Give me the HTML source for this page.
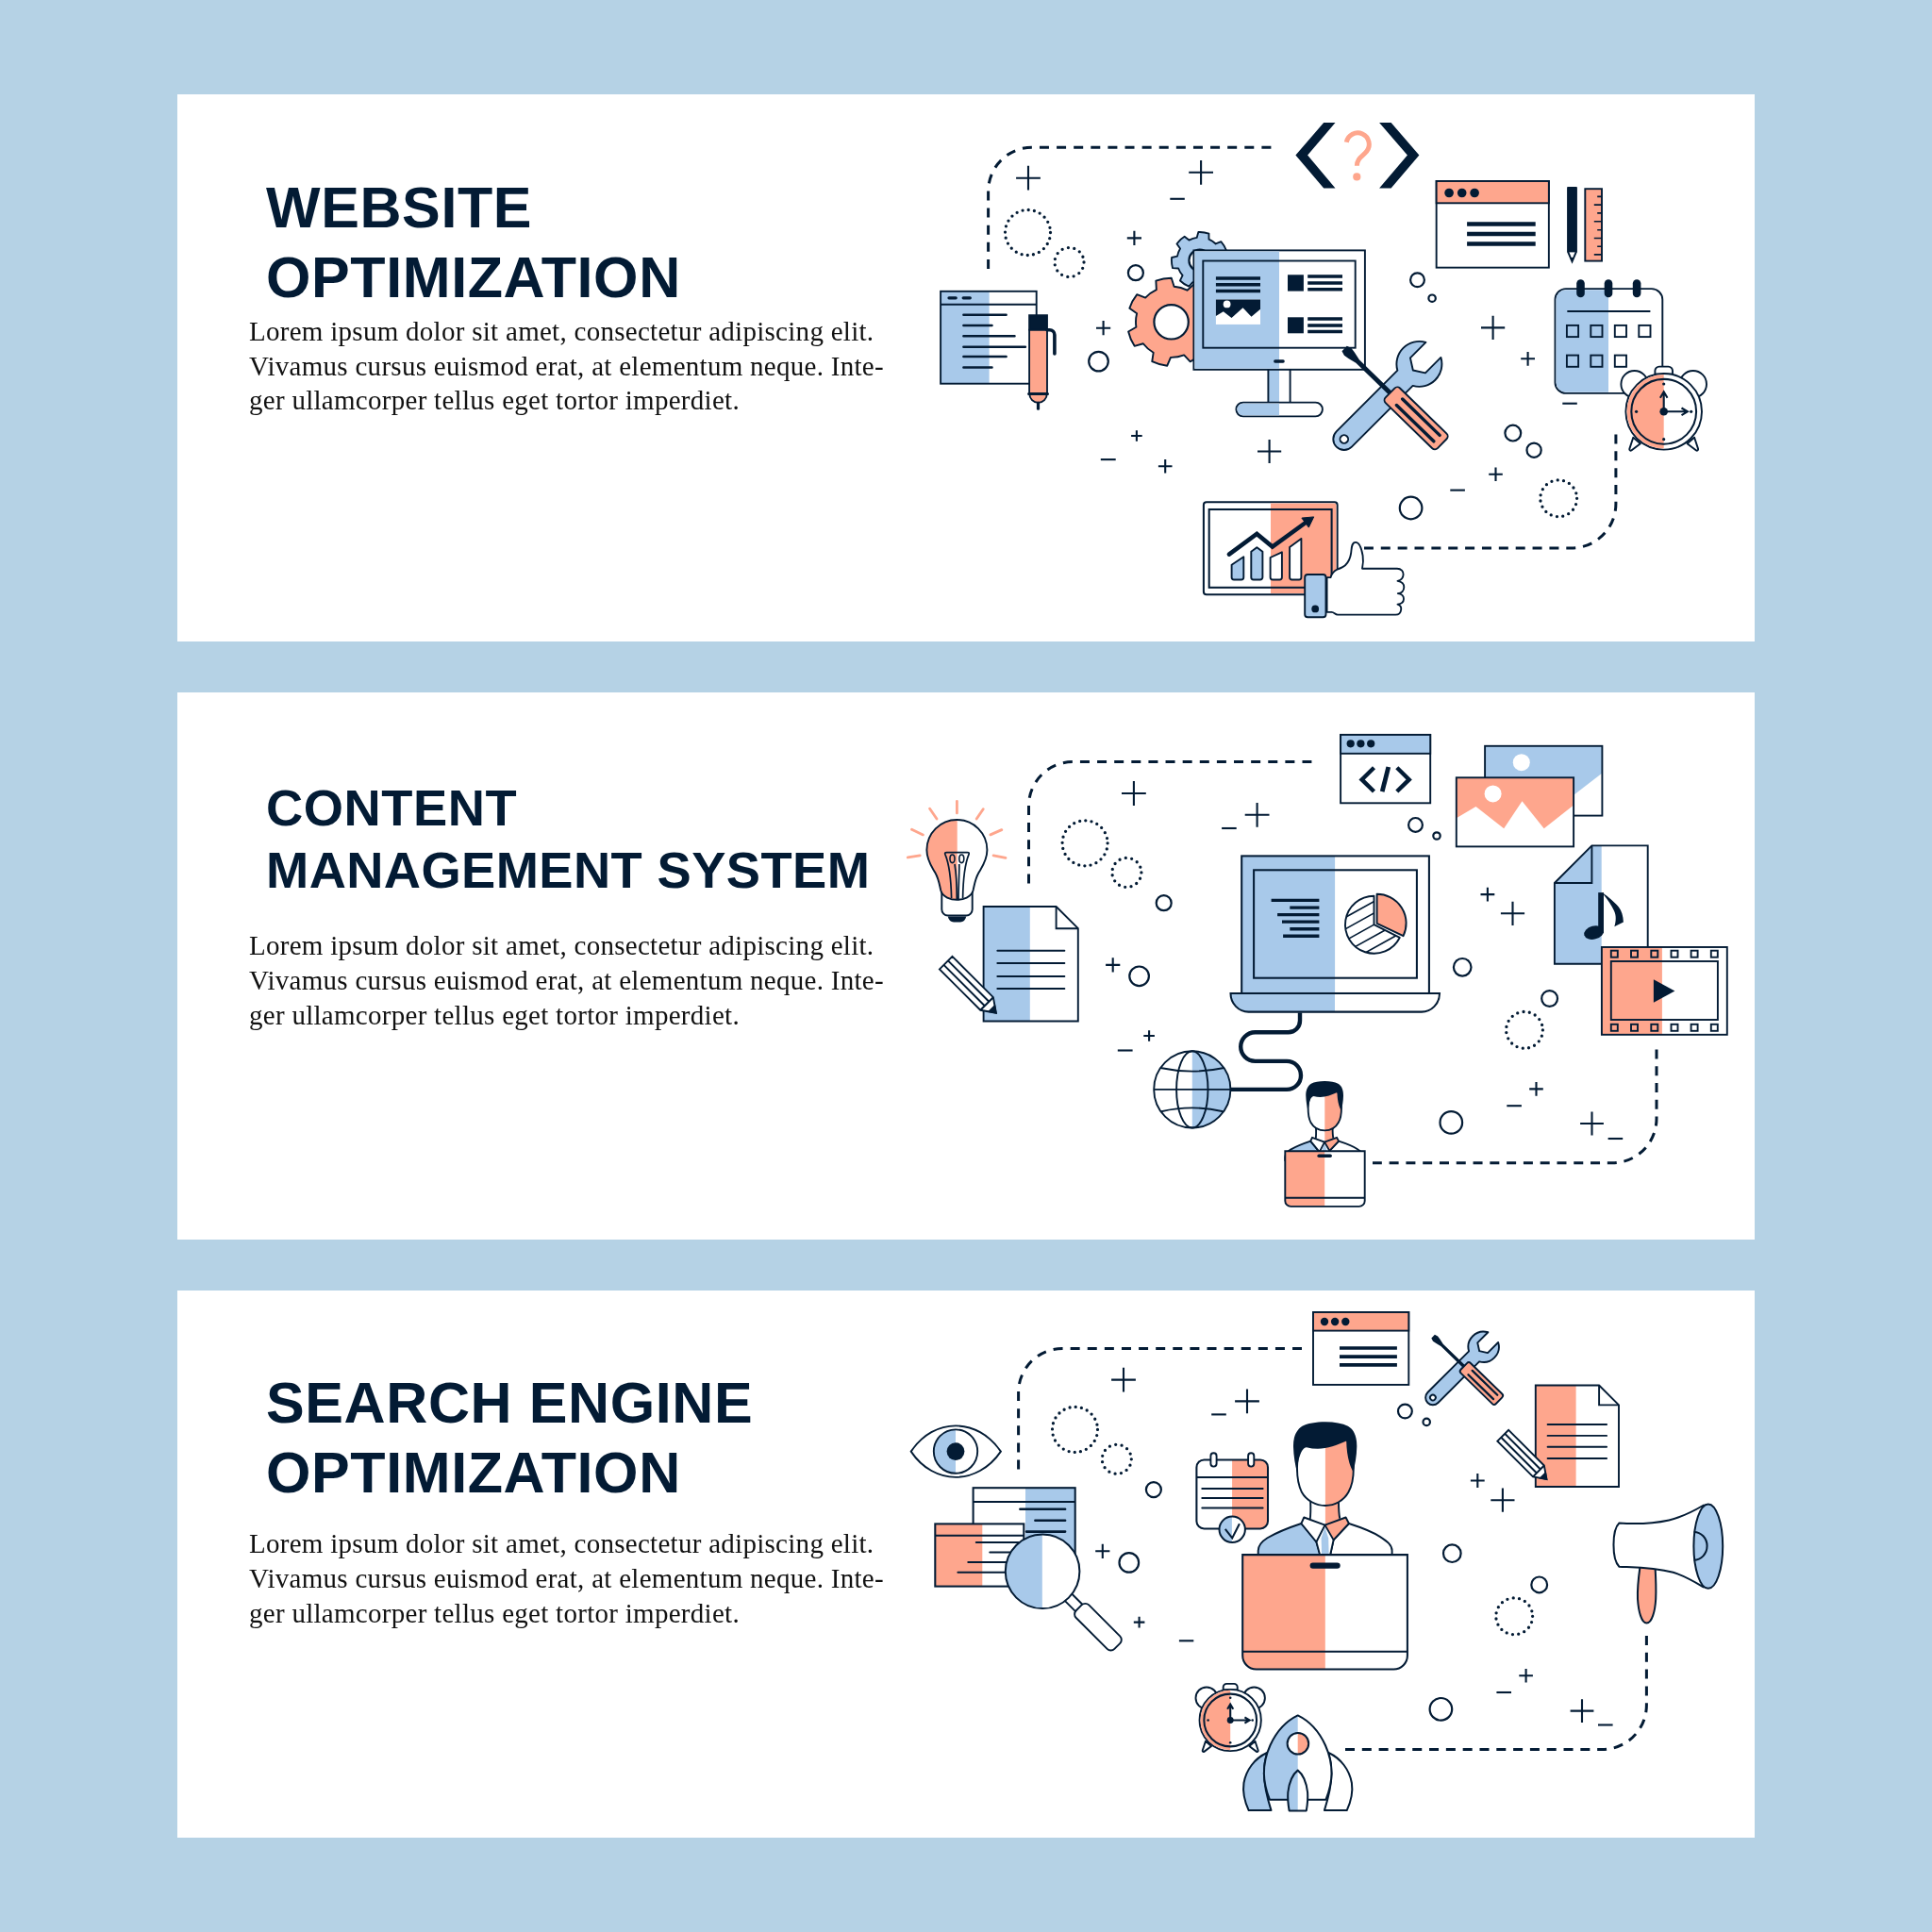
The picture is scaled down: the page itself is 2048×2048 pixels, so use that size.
<!DOCTYPE html>
<html><head><meta charset="utf-8"><title>Banners</title>
<style>
html,body{margin:0;padding:0;}
body{width:2048px;height:2048px;background:#b5d2e5;position:relative;overflow:hidden;font-family:"Liberation Sans",sans-serif;}
.panel{position:absolute;left:188px;width:1672px;height:580px;background:#fff;}
.t{will-change:transform;position:absolute;left:281.5px;margin:0;font-family:"Liberation Sans",sans-serif;font-weight:700;color:#031b34;white-space:nowrap;}
.b{will-change:transform;position:absolute;left:264px;margin:0;font-family:"Liberation Serif",serif;color:#111;white-space:nowrap;}
svg{position:absolute;left:0;top:0;}
</style></head><body>
<div class="panel" style="top:100px"></div>
<div class="panel" style="top:734px"></div>
<div class="panel" style="top:1368px"></div>
<div class="t" style="top:184.80px;font-size:61px;line-height:normal;letter-spacing:0.6px">WEBSITE</div>
<div class="t" style="top:258.80px;font-size:61px;line-height:normal;letter-spacing:0.6px">OPTIMIZATION</div>
<div class="b" style="top:335.16px;font-size:29px;line-height:normal;letter-spacing:0.28px">Lorem ipsum dolor sit amet, consectetur adipiscing elit.</div>
<div class="b" style="top:371.86px;font-size:29px;line-height:normal;letter-spacing:0.28px">Vivamus cursus euismod erat, at elementum neque. Inte-</div>
<div class="b" style="top:408.46px;font-size:29px;line-height:normal;letter-spacing:0.28px">ger ullamcorper tellus eget tortor imperdiet.</div>
<div class="t" style="top:824.66px;font-size:54.3px;line-height:normal;letter-spacing:0.53px">CONTENT</div>
<div class="t" style="top:890.76px;font-size:54.3px;line-height:normal;letter-spacing:0.4px">MANAGEMENT SYSTEM</div>
<div class="b" style="top:986.16px;font-size:29px;line-height:normal;letter-spacing:0.28px">Lorem ipsum dolor sit amet, consectetur adipiscing elit.</div>
<div class="b" style="top:1022.96px;font-size:29px;line-height:normal;letter-spacing:0.28px">Vivamus cursus euismod erat, at elementum neque. Inte-</div>
<div class="b" style="top:1059.76px;font-size:29px;line-height:normal;letter-spacing:0.28px">ger ullamcorper tellus eget tortor imperdiet.</div>
<div class="t" style="top:1452.10px;font-size:61px;line-height:normal;letter-spacing:0.6px">SEARCH ENGINE</div>
<div class="t" style="top:1525.60px;font-size:61px;line-height:normal;letter-spacing:0.6px">OPTIMIZATION</div>
<div class="b" style="top:1620.16px;font-size:29px;line-height:normal;letter-spacing:0.28px">Lorem ipsum dolor sit amet, consectetur adipiscing elit.</div>
<div class="b" style="top:1656.86px;font-size:29px;line-height:normal;letter-spacing:0.28px">Vivamus cursus euismod erat, at elementum neque. Inte-</div>
<div class="b" style="top:1693.56px;font-size:29px;line-height:normal;letter-spacing:0.28px">ger ullamcorper tellus eget tortor imperdiet.</div>

<svg width="2048" height="2048" viewBox="0 0 2048 2048" fill="none" stroke="#031b34" stroke-width="2" stroke-linecap="butt" stroke-linejoin="miter">
<g id="p1"><path d="M1047.6 284.9V202.7A46.5 46.5 0 0 1 1094.1 156.2H1347.4" stroke-width="3" stroke-dasharray="10 8.11" stroke-dashoffset="0"/><path d="M1712.9 460.4V534A47 47 0 0 1 1665.9 581H1446" stroke-width="3" stroke-dasharray="10 7.865" stroke-dashoffset="0"/><path d="M1077.1 188.7H1102.9M1090 175.8V201.6" stroke-width="2.1"/><path d="M1260.2 182.8H1286M1273.1 169.9V195.7" stroke-width="2.1"/><path d="M1240.3 210.8H1255.8" stroke-width="2.1"/><circle cx="1089.5" cy="246.5" r="24" stroke-width="3.3" stroke-linecap="round" stroke-dasharray="0 6.2832"/><circle cx="1133.5" cy="278" r="15.5" stroke-width="3.3" stroke-linecap="round" stroke-dasharray="0 6.4926"/><path d="M1194.8 252.4H1210M1202.4 244.8V260" stroke-width="2.1"/><circle cx="1203.9" cy="289.2" r="8" stroke-width="2.2" fill="none"/><path d="M1162 347.7H1177.2M1169.6 340.1V355.3" stroke-width="2.1"/><circle cx="1164.5" cy="383.1" r="10.3" stroke-width="2.2" fill="none"/><path d="M1199.1 462H1210.7M1204.9 456.2V467.8" stroke-width="2.1"/><path d="M1166.8 487.1H1182.7" stroke-width="2.1"/><path d="M1227.9 494.2H1242.5M1235.2 486.9V501.5" stroke-width="2.1"/><path d="M1333 478.5H1358.2M1345.6 465.9V491.1" stroke-width="2.1"/><circle cx="1502.5" cy="296.7" r="7.4" stroke-width="2.2" fill="none"/><circle cx="1518.1" cy="316.2" r="3.7" stroke-width="2.2" fill="none"/><path d="M1570 347.4H1595.2M1582.6 334.8V360" stroke-width="2.1"/><path d="M1612.2 380.3H1627M1619.6 372.9V387.7" stroke-width="2.1"/><path d="M1656.3 427.7H1671.8" stroke-width="2.1"/><circle cx="1603.8" cy="459.1" r="8.4" stroke-width="2.2" fill="none"/><circle cx="1626.1" cy="477.2" r="7.6" stroke-width="2.2" fill="none"/><path d="M1578.2 502.8H1592.8M1585.5 495.5V510.1" stroke-width="2.1"/><path d="M1537.3 519.6H1552.9" stroke-width="2.1"/><circle cx="1495.6" cy="538.5" r="11.8" stroke-width="2.2" fill="none"/><circle cx="1652.2" cy="528.3" r="19.4" stroke-width="3.3" stroke-linecap="round" stroke-dasharray="0 6.4155"/><rect x="997.1" y="308.8" width="51.5" height="97.9" fill="#a8c9ea" stroke="none"/><rect x="997.1" y="308.8" width="101.6" height="97.9" fill="none" stroke-width="1.9" rx="0"/><path d="M997.1 322.7H1098.7" stroke-width="1.9"/><path d="M1006 315.8H1013.2M1021.2 315.8H1028.3" stroke-width="3.3" stroke-linecap="round"/><path d="M1021.4 333.7H1066.6M1021.4 344.9H1051.5M1021.4 356.3H1075.5M1021.4 367.8H1086.9M1021.4 378H1066.6M1021.4 389.4H1051.5" stroke-width="2.5" stroke-linecap="round"/><path d="M1091.1 349.6H1110V417.5H1091.1Z" fill="#fea68d" stroke-width="1.85" /><path d="M1091.1 334.2H1110V349.6H1091.1Z" fill="#031b34" stroke-width="1.85" /><path d="M1091.3 417.5H1109.8A9.25 9.4 0 0 1 1091.3 417.5Z" fill="#fea68d" stroke-width="1.85" /><path d="M1090.6 417.5H1110.5" stroke-width="3" stroke-linecap="round"/><path d="M1100.5 427V433.2" stroke-width="3.2" stroke-linecap="round"/><path d="M1110 349.8H1112.6A5.3 5.3 0 0 1 1117.9 355.1V375" stroke-width="3.6" stroke-linecap="round"/><path d="M1268.67 251.92L1270.33 246.04A30 30 0 0 1 1281.47 247.57L1281.48 253.67A24.3 24.3 0 0 1 1288.72 258.46L1294.34 256.09A30 30 0 0 1 1300.1 265.75L1295.33 269.57A24.3 24.3 0 0 1 1296.1 278.21L1301.46 281.14A30 30 0 0 1 1297.49 291.66L1291.54 290.31A24.3 24.3 0 0 1 1285.26 296.3L1286.31 302.31A30 30 0 0 1 1275.62 305.77L1272.95 300.28A24.3 24.3 0 0 1 1264.36 299.1L1260.32 303.67A30 30 0 0 1 1250.94 297.47L1253.58 291.96A24.3 24.3 0 0 1 1249.14 284.5L1243.04 284.2A30 30 0 0 1 1242.05 273L1248 271.63A24.3 24.3 0 0 1 1251.06 263.51L1247.5 258.55A30 30 0 0 1 1255.64 250.79L1260.42 254.58A24.3 24.3 0 0 1 1268.67 251.92Z" fill="#a8c9ea" stroke-width="1.85" stroke-linejoin="round"/><circle cx="1271.9" cy="276" r="11.5" stroke-width="2.2" fill="#fff"/><path d="M1225.85 307.16L1225.37 297.62A46.6 46.6 0 0 1 1241.75 294.7L1244.59 303.82A37.6 37.6 0 0 1 1258.48 307.7L1265.63 301.37A46.6 46.6 0 0 1 1278.13 312.36L1272.77 320.27A37.6 37.6 0 0 1 1278.39 333.55L1287.8 335.19A46.6 46.6 0 0 1 1287 351.82L1277.48 352.55A37.6 37.6 0 0 1 1270.6 365.23L1275.18 373.61A46.6 46.6 0 0 1 1261.68 383.35L1255.17 376.37A37.6 37.6 0 0 1 1240.97 378.89L1237.27 387.7A46.6 46.6 0 0 1 1221.25 383.22L1222.65 373.77A37.6 37.6 0 0 1 1211.82 364.25L1202.63 366.85A46.6 46.6 0 0 1 1196.13 351.52L1204.39 346.73A37.6 37.6 0 0 1 1205.09 332.32L1197.33 326.76A46.6 46.6 0 0 1 1205.26 312.13L1214.16 315.6A37.6 37.6 0 0 1 1225.85 307.16Z" fill="#fea68d" stroke-width="1.9" stroke-linejoin="round"/><circle cx="1241.6" cy="341.3" r="18.2" stroke-width="2.2" fill="#fff"/><rect x="1344.4" y="391" width="11.6" height="35" fill="#a8c9ea" stroke="none"/><path d="M1344.4 391V426M1367.6 391V426" fill="none" stroke-width="1.9" /><rect x="1310.4" y="426.6" width="91.5" height="14.8" rx="7.4" fill="#fff" stroke-width="1.9"/><path d="M1356 427.7H1317.8A6.3 6.3 0 0 0 1317.8 440.3H1356Z" fill="#a8c9ea" stroke="none"/><rect x="1265.4" y="265.4" width="181.5" height="126.4" fill="#fff" stroke-width="1.9" rx="0"/><rect x="1266.5" y="266.5" width="89.5" height="124.2" fill="#a8c9ea" stroke="none"/><rect x="1275.3" y="276.5" width="161.4" height="92.2" fill="none" stroke-width="1.9" rx="0"/><path d="M1351.8 383H1360.1" stroke-width="3.4" stroke-linecap="round"/><path d="M1288.9 295H1336M1288.9 301.7H1336M1288.9 308.5H1336" stroke-width="3.4"/><rect x="1288.9" y="317.5" width="47.1" height="26.4" fill="#fff" stroke="none"/><path d="M1288.9 317.5H1336V327.8L1326.5 335.8L1317.5 326.3L1305.5 337.1L1296.8 330.2L1288.9 335.1Z" fill="#031b34" stroke="none"/><circle cx="1300.6" cy="322.4" r="3.9" fill="#fff" stroke="none"/><rect x="1365" y="291.3" width="16.9" height="17.3" fill="#031b34" stroke="none"/><rect x="1365" y="336.3" width="16.9" height="17" fill="#031b34" stroke="none"/><path d="M1386.2 293.1H1423M1386.2 300H1423M1386.2 306.8H1423M1386.2 338.1H1423M1386.2 344.9H1423M1386.2 351.5H1423" stroke-width="3.5"/><path d="M1403.2 130.1H1415.5L1386.1 164.6L1415.5 199.4H1403.2L1373.4 164.6Z" fill="#031b34" stroke="none"/><path d="M1462.1 130.1H1474.6L1504.4 164.6L1474.6 199.4H1462.1L1491.9 164.6Z" fill="#031b34" stroke="none"/><path d="M1427.3 150.8A12.1 12.1 0 1 1 1448.6 160.6C1444.5 166 1438.4 167.5 1438.4 175.8" stroke="#fea68d" stroke-width="5" fill="none"/><circle cx="1438.3" cy="187.4" r="4.1" fill="#fea68d" stroke="none"/><rect x="1522.65" y="192" width="119.2" height="91.65" fill="#fff" stroke-width="1.9" rx="0"/><rect x="1522.65" y="192" width="119.2" height="23.3" fill="#fea68d" stroke-width="1.9" rx="0"/><circle cx="1536.1" cy="204.5" r="4.8" fill="#031b34" stroke="none"/><circle cx="1549.7" cy="204.5" r="4.8" fill="#031b34" stroke="none"/><circle cx="1563.1" cy="204.5" r="4.8" fill="#031b34" stroke="none"/><path d="M1555.1 237.6H1627.7M1555.1 247.9H1627.7M1555.1 258.5H1627.7" stroke-width="4.5"/><path d="M1662.3 199.1H1670.7V267.4L1666.5 277.2L1662.3 267.4Z" fill="#fff" stroke-width="2" stroke-linejoin="miter"/><path d="M1661.3 199.1H1671.7V267.4H1661.3Z" fill="#031b34" stroke="none"/><path d="M1664.6 273L1666.5 277.6L1668.4 273Z" fill="#031b34" stroke="none"/><rect x="1680.3" y="200.2" width="17.7" height="76.4" fill="#fea68d" stroke-width="1.9" rx="0"/><path d="M1693.2 208.4H1698M1689.8 217.1H1698M1693.2 225.9H1698M1689.8 234.8H1698M1693.2 243.8H1698M1689.8 252.5H1698M1693.2 261.3H1698M1689.8 269.9H1698" fill="none" stroke-width="1.6" /><rect x="1648.5" y="306.1" width="113.8" height="110.8" rx="11.5" fill="#fff" stroke-width="1.9"/><path d="M1705 307.2H1660A10.4 10.4 0 0 0 1649.6 317.6V405.4A10.4 10.4 0 0 0 1660 415.8H1705Z" fill="#a8c9ea" stroke="none"/><rect x="1671.2" y="296.3" width="8.6" height="19" rx="4.3" fill="#031b34" stroke="none"/><rect x="1700.7" y="296.3" width="8.6" height="19" rx="4.3" fill="#031b34" stroke="none"/><rect x="1730.8" y="296.3" width="8.6" height="19" rx="4.3" fill="#031b34" stroke="none"/><path d="M1662.1 330H1748.6" stroke-width="2.05" stroke-linecap="round"/><rect x="1660.9" y="344.9" width="12.2" height="12.2" fill="none" stroke-width="1.9" rx="0"/><rect x="1686.3" y="344.9" width="12.2" height="12.2" fill="none" stroke-width="1.9" rx="0"/><rect x="1711.8" y="344.9" width="12.2" height="12.2" fill="none" stroke-width="1.9" rx="0"/><rect x="1737.3" y="344.9" width="12.2" height="12.2" fill="none" stroke-width="1.9" rx="0"/><rect x="1660.9" y="376.6" width="12.2" height="12.2" fill="none" stroke-width="1.9" rx="0"/><rect x="1686.3" y="376.6" width="12.2" height="12.2" fill="none" stroke-width="1.9" rx="0"/><rect x="1711.8" y="376.6" width="12.2" height="12.2" fill="none" stroke-width="1.9" rx="0"/><g transform="translate(1763.7 436.3) scale(1.0)"><path d="M-32.4 27.4L-36.4 39.6A1.4 1.4 0 0 0 -34.4 41.2L-24.8 33.9Z" fill="#fff" stroke-width="1.90" stroke-linejoin="round"/><path d="M32.4 27.4L36.4 39.6A1.4 1.4 0 0 1 34.4 41.2L24.8 33.9Z" fill="#fff" stroke-width="1.90" stroke-linejoin="round"/><circle cx="-31.1" cy="-29.1" r="14.2" fill="#fff" stroke-width="1.90"/><circle cx="31.1" cy="-29.1" r="14.2" fill="#fff" stroke-width="1.90"/><path d="M-9.3 -39.5V-43.2A4.5 4.5 0 0 1 -4.8 -47.7H4.8A4.5 4.5 0 0 1 9.3 -43.2V-39.5Z" fill="#fff" stroke-width="1.90"/><circle cx="0" cy="0" r="40.3" fill="#fff" stroke-width="1.90"/><path d="M0 -39.2A39.2 39.2 0 0 0 0 39.2Z" fill="#fea68d" stroke="none"/><circle cx="0" cy="0" r="34.4" fill="none" stroke-width="2.05"/><circle cx="0" cy="0" r="4.3" fill="#031b34" stroke="none"/><path d="M0 0V-20.5M-3.8 -14.6L0 -21L3.8 -14.6M0 0H24.5M18.8 -3.8L25.2 0L18.8 3.8" stroke-width="2.10" fill="none"/><circle cx="0" cy="-29.3" r="1.6" fill="#031b34" stroke="none"/><circle cx="29" cy="0" r="1.6" fill="#031b34" stroke="none"/><circle cx="0" cy="29.4" r="1.6" fill="#031b34" stroke="none"/><circle cx="-29.1" cy="0" r="1.6" fill="#031b34" stroke="none"/></g><g transform="translate(1424.8 465.5) scale(1.0)"><g transform="rotate(-45)"><path d="M0 -11.5H91.53A24 24 0 0 1 133.77 -11.3H110.5L103.3 0L110.5 11.3H133.77A24 24 0 0 1 91.53 11.5H0A11.5 11.5 0 0 1 0 -11.5Z" fill="#a8c9ea" stroke-width="1.90" stroke-linejoin="round"/><circle cx="0" cy="0" r="4.3" fill="#fff" stroke-width="1.90"/></g><g transform="translate(1.4 -95) rotate(44.2)"><path d="M-1.5 -3.8L3.5 -5.4L9 -4.6L18 -2.5H70V2.5H18L9 4.6L3.5 5.4L-1.5 3.8Z" fill="#031b34" stroke="none"/><rect x="66" y="-10.9" width="77" height="21.8" rx="4" fill="#fea68d" stroke-width="1.90"/><path d="M80 -4.5H135M80 4.5H135" stroke-width="3.4" stroke-linecap="round"/></g></g><rect x="1275.9" y="532.3" width="141.7" height="98" rx="3" fill="#fff" stroke-width="2.05"/><path d="M1347 533.5H1414.6A1.8 1.8 0 0 1 1416.4 535.3V627.3A1.8 1.8 0 0 1 1414.6 629.1H1347Z" fill="#fea68d" stroke="none"/><rect x="1281.7" y="540" width="129.9" height="82.8" fill="none" stroke-width="2.05" rx="0"/><path d="M1305.6 598.8L1318.3 590.3V612.0A2.5 2.5 0 0 1 1315.8 614.5H1308.1A2.5 2.5 0 0 1 1305.6 612.0Z" fill="#a8c9ea" stroke-width="1.9" stroke-linejoin="round"/><path d="M1326.3 584.8L1332.35 580.3L1338.4 584.8V612.0A2.5 2.5 0 0 1 1335.9 614.5H1328.8A2.5 2.5 0 0 1 1326.3 612.0Z" fill="#a8c9ea" stroke-width="1.9" stroke-linejoin="round"/><path d="M1346.6 591L1358.9 585.3V612.0A2.5 2.5 0 0 1 1356.4 614.5H1349.1A2.5 2.5 0 0 1 1346.6 612.0Z" fill="#fff" stroke-width="1.9" stroke-linejoin="round"/><path d="M1367.1 579.9L1379.4 570.9V612.0A2.5 2.5 0 0 1 1376.9 614.5H1369.6A2.5 2.5 0 0 1 1367.1 612.0Z" fill="#fff" stroke-width="1.9" stroke-linejoin="round"/><path d="M1302.9 587.6L1332.3 565.9L1348.8 579.6L1384 554" stroke-width="4.6" stroke-linecap="round" stroke-linejoin="miter" fill="none"/><path d="M1379.9 549.1L1392.7 547.9L1387.3 559.1Z" fill="#031b34" stroke-width="1" stroke-linejoin="round"/><path d="M1406.6 612.1H1410.6C1412 607 1414 605 1417.5 603.6C1421 602.3 1424 601 1426 599.2C1430 595.5 1431.5 591 1432.2 586C1432.8 581 1432.6 574.9 1437 574.9C1441.5 574.9 1443.4 582 1444.6 589C1445.4 594 1445 598 1444 602.7H1481C1485.3 602.7 1487.8 605.5 1487.6 609C1487.4 612.5 1485.3 615 1481.5 615.8C1486 616.5 1488.4 619 1488.3 622.5C1488.2 626 1485.8 628.6 1481.8 629.2C1486 629.8 1488.1 632 1488 635C1487.9 638 1485.5 640.2 1481.5 640.6C1484.4 641.4 1485.6 643.6 1485.2 646.3C1484.7 649.8 1482.5 651.6 1479.5 651.6H1418C1415 651.6 1414.5 648.9 1411.5 648.9H1406.6Z" fill="#fff" stroke-width="1.85" stroke-linejoin="round"/><rect x="1383.2" y="609" width="22.3" height="45.2" rx="3" fill="#a8c9ea" stroke-width="1.9"/><circle cx="1394.2" cy="645.4" r="3.9" fill="#031b34" stroke="none"/></g><g id="p2"><path d="M1090.5 936.4V854.3A46.7 46.7 0 0 1 1137.2 807.6H1390.4" stroke-width="3" stroke-dasharray="10 8.12" stroke-dashoffset="0"/><path d="M1756 1112.4V1185.8A47 47 0 0 1 1709 1232.8H1455" stroke-width="3" stroke-dasharray="10 7.785" stroke-dashoffset="0"/><path d="M1189 841H1214.8M1201.9 828.1V853.9" stroke-width="2.1"/><path d="M1319.7 863.8H1345.5M1332.6 850.9V876.7" stroke-width="2.1"/><path d="M1295.1 878H1310.7" stroke-width="2.1"/><circle cx="1150.1" cy="893.8" r="24" stroke-width="3.3" stroke-linecap="round" stroke-dasharray="0 6.2832"/><circle cx="1194.4" cy="924.9" r="15.5" stroke-width="3.3" stroke-linecap="round" stroke-dasharray="0 6.4926"/><circle cx="1233.7" cy="957.2" r="8" stroke-width="2.2" fill="none"/><path d="M1172.1 1022.9H1187.3M1179.7 1015.3V1030.5" stroke-width="2.1"/><circle cx="1207.6" cy="1034.8" r="10.3" stroke-width="2.2" fill="none"/><path d="M1212.3 1098H1223.9M1218.1 1092.2V1103.8" stroke-width="2.1"/><path d="M1184.8 1113.5H1200.6" stroke-width="2.1"/><circle cx="1500.5" cy="874.4" r="7.4" stroke-width="2.2" fill="none"/><circle cx="1523" cy="886" r="3.7" stroke-width="2.2" fill="none"/><path d="M1569.5 948.1H1584.3M1576.9 940.7V955.5" stroke-width="2.1"/><path d="M1590.9 968.3H1616.1M1603.5 955.7V980.9" stroke-width="2.1"/><circle cx="1550.2" cy="1025.3" r="9.3" stroke-width="2.2" fill="none"/><circle cx="1642.6" cy="1058.5" r="8.4" stroke-width="2.2" fill="none"/><circle cx="1616" cy="1091.9" r="19.4" stroke-width="3.3" stroke-linecap="round" stroke-dasharray="0 6.4155"/><circle cx="1538.3" cy="1189.9" r="11.8" stroke-width="2.2" fill="none"/><path d="M1597.3 1172.2H1612.9" stroke-width="2.1"/><path d="M1621.2 1154.4H1635.8M1628.5 1147.1V1161.7" stroke-width="2.1"/><path d="M1675.1 1191H1699.9M1687.5 1178.6V1203.4" stroke-width="2.1"/><path d="M1704.6 1207H1720.2" stroke-width="2.1"/><path d="M1014.4 849.3L1014.4 861.9M985.6 857.2L993 868M1042.2 857.7L1035.2 868M966.5 879.3L978.4 884.9M1061.8 879.6L1049.9 884.9M962.3 908.9L975.2 906.8M1066 909.4L1053.1 906.8" stroke="#fea68d" stroke-width="2.8" stroke-linecap="round"/><path d="M998.3 946V964A6.5 6.5 0 0 0 1004.8 970.5H1024.2A6.5 6.5 0 0 0 1030.7 964V946Z" fill="#fff" stroke-width="1.9"/><path d="M1004.9 971.5H1024.1C1023.5 975.5 1021 977.4 1018 977.4H1011C1008 977.4 1005.5 975.5 1004.9 971.5Z" fill="#031b34" stroke="none"/><clipPath id="bulbL"><rect x="970" y="860" width="44.7" height="100"/></clipPath><path d="M1014.4 869A32 32 0 0 1 1046.4 901C1046.4 912 1041 919 1037.5 925C1033.5 932 1033 938 1031.5 944C1029.5 951 1021 953.8 1014.4 953.8C1007.8 953.8 999.3 951 997.3 944C995.8 938 995.3 932 991.3 925C987.8 919 982.4 912 982.4 901A32 32 0 0 1 1014.4 869Z" fill="#fff" stroke="none"/><path d="M1014.4 869A32 32 0 0 1 1046.4 901C1046.4 912 1041 919 1037.5 925C1033.5 932 1033 938 1031.5 944C1029.5 951 1021 953.8 1014.4 953.8C1007.8 953.8 999.3 951 997.3 944C995.8 938 995.3 932 991.3 925C987.8 919 982.4 912 982.4 901A32 32 0 0 1 1014.4 869Z" fill="#fea68d" stroke="none" clip-path="url(#bulbL)"/><path d="M1014.4 869A32 32 0 0 1 1046.4 901C1046.4 912 1041 919 1037.5 925C1033.5 932 1033 938 1031.5 944C1029.5 951 1021 953.8 1014.4 953.8C1007.8 953.8 999.3 951 997.3 944C995.8 938 995.3 932 991.3 925C987.8 919 982.4 912 982.4 901A32 32 0 0 1 1014.4 869Z" fill="none" stroke-width="1.9"/><path d="M1003.5 903.6H1025.5Q1027.8 903.6 1027 905.6C1024 913 1021 925 1020.6 952M1001.9 905.6Q1001.1 903.6 1003.5 903.6M1001.9 905.6C1005 913 1008 925 1008.6 952M1012 916C1013.5 925 1014.3 940 1014.3 953M1016.8 916C1017 925 1016 940 1016 953" stroke-width="1.7" fill="none"/><ellipse cx="1009.5" cy="910.3" rx="2.5" ry="4.3" stroke-width="1.6"/><ellipse cx="1019.3" cy="910.3" rx="2.5" ry="4.3" stroke-width="1.6"/><path d="M1042.6 961H1119.6L1142.8 984.2V1082.5H1042.6Z" fill="#fff" stroke="none"/><rect x="1042.6" y="961" width="49.2" height="121.5" fill="#a8c9ea" stroke="none"/><path d="M1042.6 961H1119.6L1142.8 984.2V1082.5H1042.6Z" fill="none" stroke-width="1.9" stroke-linejoin="miter"/><path d="M1119.6 961V984.2H1142.8" fill="none" stroke-width="1.9"/><path d="M1057.3 1007.7H1128.4M1057.3 1021H1128.4M1057.3 1035H1128.4M1057.3 1048H1128.4" stroke-width="1.9" stroke-linecap="round"/><g transform="translate(1055.9 1073.8) rotate(45) scale(1.0)"><path d="M-75.2 -9.6H-13.9L0 0L-13.9 9.6H-75.2Z" fill="#fff" stroke-width="1.90" stroke-linejoin="miter"/><path d="M-75.2 -3.2H-13.9M-75.2 3.2H-13.9M-13.9 -9.6V9.6" stroke-width="2.00"/><path d="M-6.5 -4.5L0 0L-6.5 4.5Z" fill="#031b34" stroke-width="1.50"/></g><rect x="1316.2" y="907.4" width="198.7" height="145.6" fill="#fff" stroke="none"/><rect x="1316.2" y="907.4" width="98.9" height="145.6" fill="#a8c9ea" stroke="none"/><rect x="1316.2" y="907.4" width="198.7" height="145.6" fill="none" stroke-width="2.05" rx="0"/><rect x="1329.1" y="922.3" width="172.8" height="114.4" fill="none" stroke-width="2.05" rx="0"/><clipPath id="lapL"><rect x="1300" y="1050" width="115.1" height="30"/></clipPath><path d="M1304.5 1053H1526A19 19.6 0 0 1 1507 1072.6H1323.5A19 19.6 0 0 1 1304.5 1053Z" fill="#fff" stroke="none"/><path d="M1304.5 1053H1526A19 19.6 0 0 1 1507 1072.6H1323.5A19 19.6 0 0 1 1304.5 1053Z" fill="#a8c9ea" stroke="none" clip-path="url(#lapL)"/><path d="M1304.5 1053H1526A19 19.6 0 0 1 1507 1072.6H1323.5A19 19.6 0 0 1 1304.5 1053Z" fill="none" stroke-width="2.05"/><path d="M1347.6 954.4H1398.4M1367.3 962.1H1398.4M1354.1 969.6H1398.4M1359 977.1H1398.4M1367.3 984.7H1398.4M1360.1 992.2H1398.4" stroke-width="3.4"/><clipPath id="pieC"><path d="M1456.5 980.2L1483.72 993.95A30.5 30.5 0 1 1 1456.5 949.7Z"/></clipPath><path d="M1456.5 980.2L1483.72 993.95A30.5 30.5 0 1 1 1456.5 949.7Z" fill="#fff" stroke="none"/><path d="M1416.5 977.80L1496.5 933.40M1416.5 990.10L1496.5 945.70M1416.5 1002.40L1496.5 958.00M1416.5 1014.70L1496.5 970.30M1416.5 1027.00L1496.5 982.60" stroke-width="1.6" clip-path="url(#pieC)"/><path d="M1456.5 980.2L1483.72 993.95A30.5 30.5 0 1 1 1456.5 949.7Z" fill="none" stroke-width="1.9" stroke-linejoin="round"/><path d="M1459.6 978.8V947.8A31 31 0 0 1 1487.56 992.19Z" fill="#fea68d" stroke-width="1.9" stroke-linejoin="round"/><path d="M1378 1073.5V1082A12.3 12.3 0 0 1 1365.7 1094.3H1330.5A15.3 15.3 0 0 0 1330.5 1124.9H1364A15 15 0 0 1 1364 1154.9H1305" stroke-width="4.4" fill="none"/><circle cx="1263.8" cy="1154.9" r="40.6" fill="#fff" stroke="none"/><path d="M1263.8 1114.3000000000002A40.6 40.6 0 0 1 1263.8 1195.5Z" fill="#a8c9ea" stroke="none"/><circle cx="1263.8" cy="1154.9" r="40.6" fill="none" stroke-width="1.9"/><ellipse cx="1263.8" cy="1154.9" rx="16.7" ry="40.6" stroke-width="1.9"/><path d="M1223.2 1154.9H1304.3999999999999M1230 1132Q1263.8 1139.2 1297.6 1132M1231 1178.2Q1263.8 1170.6 1296.6 1178.2" stroke-width="1.9" fill="none"/><rect x="1421.1" y="778.9" width="95.1" height="72.4" fill="#fff" stroke-width="1.9" rx="0"/><rect x="1421.1" y="778.9" width="95.1" height="19.9" fill="#a8c9ea" stroke-width="1.9" rx="0"/><circle cx="1431.7" cy="788.3" r="4.1" fill="#031b34" stroke="none"/><circle cx="1442.4" cy="788.3" r="4.1" fill="#031b34" stroke="none"/><circle cx="1453.2" cy="788.3" r="4.1" fill="#031b34" stroke="none"/><path d="M1456.5 813.8L1443.6 826.4L1456.5 839M1480.8 813.8L1493.7 826.4L1480.8 839" stroke-width="4.4" fill="none" stroke-linejoin="miter"/><path d="M1471.8 813L1465.2 839.2" stroke-width="4.8"/><rect x="1574.1" y="790.8" width="124.3" height="73.8" fill="#fff" stroke="none"/><path d="M1574.1 790.8H1698.4V819.5L1640 864.6H1574.1Z" fill="#a8c9ea" stroke="none"/><rect x="1574.1" y="790.8" width="124.3" height="73.8" fill="none" stroke-width="1.9" rx="0"/><circle cx="1612.8" cy="808.2" r="9" fill="#fff" stroke="none"/><rect x="1543.8" y="824.3" width="124.3" height="73.1" fill="#fff" stroke="none"/><path d="M1543.8 824.3H1668.1V853.5L1636.7 878.2L1613.5 849.2L1594.2 878.2L1564.5 855L1543.8 867.3Z" fill="#fea68d" stroke="none"/><rect x="1543.8" y="824.3" width="124.3" height="73.1" fill="none" stroke-width="1.9" rx="0"/><circle cx="1582.6" cy="841.4" r="9" fill="#fff" stroke="none"/><clipPath id="mfL"><rect x="1640" y="890" width="57.7" height="140"/></clipPath><path d="M1687.4 896.4H1746.7V1021.7H1647.9V936Z" fill="#fff" stroke="none"/><path d="M1687.4 896.4H1746.7V1021.7H1647.9V936Z" fill="#a8c9ea" stroke="none" clip-path="url(#mfL)"/><path d="M1687.4 896.4H1746.7V1021.7H1647.9V936Z" fill="none" stroke-width="1.9"/><path d="M1687.4 896.4V936H1647.9" stroke-width="1.9" fill="none"/><path d="M1697.1 946.1V989" stroke-width="5.8"/><ellipse cx="1689.6" cy="988.6" rx="10.6" ry="7" transform="rotate(-15 1689.6 988.6)" fill="#031b34" stroke="none"/><path d="M1700 947.2C1704 950 1711 955.5 1715.9 961.5C1719 965.5 1720.6 971 1720.9 977.6L1711.3 982.2C1713.2 977 1713.4 970 1710.9 965.2C1708.5 960 1704.5 954.5 1700 948.6Z" fill="#031b34" stroke="none"/><rect x="1697.9" y="1004" width="132.9" height="92.8" fill="#fff" stroke="none"/><rect x="1697.9" y="1004" width="64" height="92.8" fill="#fea68d" stroke="none"/><rect x="1697.9" y="1004" width="132.9" height="92.8" fill="none" stroke-width="1.9" rx="0"/><rect x="1707.8" y="1019" width="113.1" height="62" fill="none" stroke-width="1.9" rx="0"/><rect x="1707.8" y="1007.7" width="7" height="7" fill="none" stroke-width="1.9" rx="0"/><rect x="1707.8" y="1085.8" width="7" height="7" fill="none" stroke-width="1.9" rx="0"/><rect x="1729" y="1007.7" width="7" height="7" fill="none" stroke-width="1.9" rx="0"/><rect x="1729" y="1085.8" width="7" height="7" fill="none" stroke-width="1.9" rx="0"/><rect x="1750.3" y="1007.7" width="7" height="7" fill="none" stroke-width="1.9" rx="0"/><rect x="1750.3" y="1085.8" width="7" height="7" fill="none" stroke-width="1.9" rx="0"/><rect x="1771.5" y="1007.7" width="7" height="7" fill="none" stroke-width="1.9" rx="0"/><rect x="1771.5" y="1085.8" width="7" height="7" fill="none" stroke-width="1.9" rx="0"/><rect x="1792.6" y="1007.7" width="7" height="7" fill="none" stroke-width="1.9" rx="0"/><rect x="1792.6" y="1085.8" width="7" height="7" fill="none" stroke-width="1.9" rx="0"/><rect x="1813.8" y="1007.7" width="7" height="7" fill="none" stroke-width="1.9" rx="0"/><rect x="1813.8" y="1085.8" width="7" height="7" fill="none" stroke-width="1.9" rx="0"/><path d="M1752.9 1038.2V1062.8L1775.4 1050.6Z" fill="#031b34" stroke="none"/><g transform="translate(1404.3 1229) scale(0.59)" stroke-width="3.14"><path d="M-25.5 -32.8C-40 -28 -52 -23 -61.4 -17.6C-68 -13.5 -71.2 -10 -71.2 -4V2H-4.9L-9.5 -13.3Z" fill="#a8c9ea" stroke-linejoin="round"/><path d="M25 -32.8C40 -28 50 -24 58.2 -18.7C66 -13.5 70.7 -10 70.7 -4V2H4.9L8.7 -15.4Z" fill="#fff" stroke-linejoin="round"/><path d="M-9.5 -13.3L-0.4 -31.2L8.7 -15.4L4.9 2H-5.4Z" fill="#fff" stroke="none"/><path d="M-0.5 -29L-4.3 -17.4L-3.8 2H3.8L3.3 -17.4Z" fill="#a8c9ea" stroke="none"/><path d="M-9.5 -13.3L-5.4 2M8.7 -15.4L4.9 2" fill="none"/><path d="M-15.8 -60C-15.5 -50 -15.2 -44 -16.2 -37L-0.4 -31.2L15.4 -37.5C14 -44 14.1 -50 14.1 -60Z" fill="#fff" stroke="none"/><path d="M0 -60V-31.2L15.4 -37.5C14 -44 14.1 -50 14.1 -60Z" fill="#fea68d" stroke="none"/><path d="M-15.8 -58C-15.5 -50 -15.2 -44 -16.2 -37.5M14.1 -58C14.1 -50 14 -44 15.4 -38" fill="none"/><path d="M-22.6 -39.3L-25.5 -32.8L-9.5 -13.3L-0.4 -31.2Z" fill="#fff" stroke-linejoin="round"/><path d="M21.7 -39.3L25 -32.8L8.7 -15.4L-0.4 -31.2Z" fill="#fea68d" stroke-linejoin="round"/><path d="M-29.9 -92C-30 -80 -28 -72 -25 -66C-20 -57 -10 -51.8 0 -51.8C10 -51.8 19.5 -57 24.5 -66C28 -72 30 -80 29.9 -92C30 -118 22 -130 0 -130C-22 -130 -30 -118 -29.9 -92Z" fill="#fff" stroke="none"/><clipPath id="pc15272"><rect x="0" y="-135" width="40" height="95"/></clipPath><path d="M-29.9 -92C-30 -80 -28 -72 -25 -66C-20 -57 -10 -51.8 0 -51.8C10 -51.8 19.5 -57 24.5 -66C28 -72 30 -80 29.9 -92C30 -118 22 -130 0 -130C-22 -130 -30 -118 -29.9 -92Z" fill="#fea68d" stroke="none" clip-path="url(#pc15272)"/><path d="M-29.9 -92C-30 -80 -28 -72 -25 -66C-20 -57 -10 -51.8 0 -51.8C10 -51.8 19.5 -57 24.5 -66C28 -72 30 -80 29.9 -92C30 -118 22 -130 0 -130C-22 -130 -30 -118 -29.9 -92Z" fill="none"/><path d="M0 -140.6C-10 -140.6 -19 -139 -24.5 -136.1C-31 -132 -34.2 -124 -33.9 -114C-33.6 -104 -32 -95 -29.9 -86.5C-29.5 -95 -28.5 -101 -26.6 -105.7C-25 -110 -23 -113 -20 -113.5C-16 -112.5 -12 -112 -8 -112C2 -112 13 -116 22.3 -120.3C22.5 -112 23.5 -104 25.5 -97C26.5 -93.5 28 -90.5 29.5 -87.5C31.5 -95 33.2 -104 33.4 -114C33.6 -124 31 -132 24 -136C18 -139 10 -140.6 0 -140.6Z" fill="#031b34" stroke="none"/></g><clipPath id="lc1362"><rect x="1357.3" y="1215.2" width="46.90000000000009" height="68.70000000000005"/></clipPath><path d="M1362.3 1220.2H1446.7V1272.9A6 6 0 0 1 1440.7 1278.9H1368.3A6 6 0 0 1 1362.3 1272.9Z" fill="#fff" stroke="none"/><path d="M1362.3 1220.2H1446.7V1272.9A6 6 0 0 1 1440.7 1278.9H1368.3A6 6 0 0 1 1362.3 1272.9Z" fill="#fea68d" stroke="none" clip-path="url(#lc1362)"/><path d="M1362.3 1220.2H1446.7V1272.9A6 6 0 0 1 1440.7 1278.9H1368.3A6 6 0 0 1 1362.3 1272.9Z" fill="none" stroke-width="1.9"/><path d="M1362.3 1269.7H1446.7" stroke-width="1.9"/><path d="M1398.1 1225.3H1410.2" stroke-width="3.4" stroke-linecap="round"/></g><g id="p3"><path d="M1079.6 1557.5V1476A46.5 46.5 0 0 1 1126.1 1429.5H1380" stroke-width="3" stroke-dasharray="10 8.108" stroke-dashoffset="0"/><path d="M1426 1854.5H1698.4A47 47 0 0 0 1745.4 1807.5V1734.1" stroke-width="3" stroke-dasharray="10 7.81" stroke-dashoffset="0"/><path d="M1178.1 1462.6H1203.9M1191 1449.7V1475.5" stroke-width="2.1"/><path d="M1309.1 1485.4H1334.9M1322 1472.5V1498.3" stroke-width="2.1"/><path d="M1284.2 1499.4H1299.8" stroke-width="2.1"/><circle cx="1139.5" cy="1515.4" r="24" stroke-width="3.3" stroke-linecap="round" stroke-dasharray="0 6.2832"/><circle cx="1183.8" cy="1546.8" r="15.5" stroke-width="3.3" stroke-linecap="round" stroke-dasharray="0 6.4926"/><circle cx="1222.9" cy="1579.1" r="8" stroke-width="2.2" fill="none"/><path d="M1161.2 1644.3H1176.4M1168.8 1636.7V1651.9" stroke-width="2.1"/><circle cx="1196.8" cy="1656.4" r="10.3" stroke-width="2.2" fill="none"/><path d="M1201.8 1719.6H1213.4M1207.6 1713.8V1725.4" stroke-width="2.1"/><path d="M1249.9 1739.3H1265.3" stroke-width="2.1"/><circle cx="1489.4" cy="1496" r="7.4" stroke-width="2.2" fill="none"/><circle cx="1512.2" cy="1507.4" r="3.7" stroke-width="2.2" fill="none"/><path d="M1558.9 1569.5H1573.7M1566.3 1562.1V1576.9" stroke-width="2.1"/><path d="M1580.3 1590.2H1605.5M1592.9 1577.6V1602.8" stroke-width="2.1"/><circle cx="1539.3" cy="1646.7" r="9.3" stroke-width="2.2" fill="none"/><circle cx="1631.7" cy="1679.9" r="8.4" stroke-width="2.2" fill="none"/><circle cx="1605.2" cy="1713.3" r="19.4" stroke-width="3.3" stroke-linecap="round" stroke-dasharray="0 6.4155"/><circle cx="1527.4" cy="1811.8" r="11.8" stroke-width="2.2" fill="none"/><path d="M1586.4 1794H1602" stroke-width="2.1"/><path d="M1610.3 1776.3H1624.9M1617.6 1769V1783.6" stroke-width="2.1"/><path d="M1664.6 1813.6H1689.4M1677 1801.2V1826" stroke-width="2.1"/><path d="M1694 1828.5H1709.6" stroke-width="2.1"/><path d="M965.7 1538.6C990 1502.3 1036 1502.3 1060.9 1538.6C1036 1574.9 990 1574.9 965.7 1538.6Z" fill="#fff" stroke-width="1.9" stroke-linejoin="miter"/><circle cx="1013" cy="1538.6" r="23.2" fill="#fff" stroke="none"/><path d="M1013 1515.4A23.2 23.2 0 0 0 1013 1561.8Z" fill="#a8c9ea" stroke="none"/><circle cx="1013" cy="1538.6" r="23.2" fill="none" stroke-width="1.9"/><circle cx="1013" cy="1538.6" r="9.4" fill="#031b34" stroke="none"/><rect x="1031.6" y="1577.2" width="108.1" height="72.8" fill="#fff" stroke="none"/><rect x="1087" y="1577.2" width="52.7" height="72.8" fill="#a8c9ea" stroke="none"/><rect x="1031.6" y="1577.2" width="108.1" height="72.8" fill="none" stroke-width="2.05" rx="0"/><path d="M1031.6 1591.9H1139.7" stroke-width="2.05"/><path d="M1081.4 1599.7H1129.1M1097.4 1611.7H1129.1M1088 1623.6H1129.1" stroke-width="2.6" stroke-linecap="round"/><rect x="991.3" y="1615.4" width="94" height="66.2" fill="#fff" stroke="none"/><rect x="991.3" y="1615.4" width="50" height="66.2" fill="#fea68d" stroke="none"/><rect x="991.3" y="1615.4" width="94" height="66.2" fill="none" stroke-width="2.05" rx="0"/><path d="M991.3 1627.7H1085.3" stroke-width="2.05"/><path d="M1034.8 1634.9H1080M1049.3 1645.5H1080M1026.3 1655.9H1080M1015.4 1666.8H1080" stroke-width="2.05" stroke-linecap="round"/><g transform="translate(1105.1 1665.8) rotate(45)"><path d="M38 -5.2H56M38 5.2H56" stroke-width="1.9"/><rect x="54.5" y="-9.6" width="57.5" height="19.2" rx="5.5" fill="#fff" stroke-width="1.9"/></g><circle cx="1105.1" cy="1665.8" r="39.3" fill="#fff" stroke="none"/><path d="M1104.8 1626.5A39.3 39.3 0 0 0 1104.8 1705.1Z" fill="#a8c9ea" stroke="none"/><circle cx="1105.1" cy="1665.8" r="39.3" fill="none" stroke-width="2.0"/><rect x="1268.4" y="1547.4" width="75.6" height="73" rx="8" fill="#fff" stroke="none"/><path d="M1306.1 1547.4H1336A8 8 0 0 1 1344 1555.4V1612.4A8 8 0 0 1 1336 1620.4H1306.1Z" fill="#fea68d" stroke="none"/><rect x="1268.4" y="1547.4" width="75.6" height="73" rx="8" fill="none" stroke-width="2.05"/><path d="M1268.4 1566H1344" stroke-width="2.05"/><path d="M1274.3 1577.9H1338.6M1274.3 1588H1338.6M1274.3 1598.4H1338.6" stroke-width="2.0" stroke-linecap="round"/><rect x="1283.4" y="1540.3" width="6.2" height="14.3" rx="3.1" fill="#fff" stroke-width="1.9"/><rect x="1323.1000000000001" y="1540.3" width="6.2" height="14.3" rx="3.1" fill="#fff" stroke-width="1.9"/><circle cx="1306.2" cy="1621.3" r="13.7" fill="#fff" stroke="none"/><path d="M1305.9 1607.6A13.7 13.7 0 0 0 1305.9 1635Z" fill="#a8c9ea" stroke="none"/><circle cx="1306.2" cy="1621.3" r="13.7" fill="none" stroke-width="2.0"/><path d="M1298.8 1620.9L1306.2 1630.4L1313.9 1615.2" stroke-width="2.05" fill="none"/><rect x="1392" y="1391" width="101.3" height="76.9" fill="#fff" stroke-width="1.9" rx="0"/><rect x="1392" y="1391" width="101.3" height="19.6" fill="#fea68d" stroke-width="1.9" rx="0"/><circle cx="1404" cy="1401" r="4.2" fill="#031b34" stroke="none"/><circle cx="1415.1" cy="1401" r="4.2" fill="#031b34" stroke="none"/><circle cx="1426.3" cy="1401" r="4.2" fill="#031b34" stroke="none"/><path d="M1420 1429H1480.9M1420 1438.1H1480.9M1420 1446.9H1480.9" stroke-width="3.6"/><g transform="translate(1518.9 1481.5) scale(0.675)"><g transform="rotate(-45)"><path d="M0 -11.5H91.53A24 24 0 0 1 133.77 -11.3H110.5L103.3 0L110.5 11.3H133.77A24 24 0 0 1 91.53 11.5H0A11.5 11.5 0 0 1 0 -11.5Z" fill="#a8c9ea" stroke-width="2.81" stroke-linejoin="round"/><circle cx="0" cy="0" r="4.3" fill="#fff" stroke-width="2.81"/></g><g transform="translate(1.4 -95) rotate(44.2)"><path d="M-1.5 -3.8L3.5 -5.4L9 -4.6L18 -2.5H70V2.5H18L9 4.6L3.5 5.4L-1.5 3.8Z" fill="#031b34" stroke="none"/><rect x="66" y="-10.9" width="77" height="21.8" rx="4" fill="#fea68d" stroke-width="2.81"/><path d="M80 -4.5H135M80 4.5H135" stroke-width="3.4" stroke-linecap="round"/></g></g><path d="M1627.8 1468.5H1695.1L1716 1489.4V1576H1627.8Z" fill="#fff" stroke="none"/><rect x="1627.8" y="1468.5" width="42.8" height="107.5" fill="#fea68d" stroke="none"/><path d="M1627.8 1468.5H1695.1L1716 1489.4V1576H1627.8Z" fill="none" stroke-width="1.9" stroke-linejoin="miter"/><path d="M1695.1 1468.5V1489.4H1716" fill="none" stroke-width="1.9"/><path d="M1640.6 1510H1703.1M1640.6 1521.9H1703.1M1640.6 1533.8H1703.1M1640.6 1546H1703.1" stroke-width="1.9" stroke-linecap="round"/><g transform="translate(1639.5 1568) rotate(45) scale(0.87)"><path d="M-75.2 -9.6H-13.9L0 0L-13.9 9.6H-75.2Z" fill="#fff" stroke-width="2.18" stroke-linejoin="miter"/><path d="M-75.2 -3.2H-13.9M-75.2 3.2H-13.9M-13.9 -9.6V9.6" stroke-width="2.30"/><path d="M-6.5 -4.5L0 0L-6.5 4.5Z" fill="#031b34" stroke-width="1.72"/></g><path d="M1738.6 1660C1736.5 1675 1735.5 1685 1736 1695C1736.8 1708 1740 1720.6 1745.5 1720.6C1751 1720.6 1754.5 1708 1755.2 1695C1755.7 1685 1755.4 1675 1754.5 1660Z" fill="#fea68d" stroke-width="2.0"/><path d="M1716.4 1614.5C1730 1615.5 1750 1615.5 1769.2 1611.4C1782 1608.5 1795 1602 1806 1595.5L1806 1682.5C1795 1676 1785 1670 1773.6 1666.8C1752 1661.5 1730 1661.5 1716.4 1660.7C1708.5 1653 1708.5 1622 1716.4 1614.5Z" fill="#fff" stroke-width="2.0" stroke-linejoin="round"/><ellipse cx="1810.8" cy="1639.1" rx="15.4" ry="44.7" fill="#a8c9ea" stroke-width="2.0"/><path d="M1795.6 1623.9A14 14.9 0 0 1 1795.6 1653.7" fill="none" stroke-width="2.0"/><g transform="translate(1404.9 1647.8) scale(1.0)" stroke-width="1.90"><path d="M-25.5 -32.8C-40 -28 -52 -23 -61.4 -17.6C-68 -13.5 -71.2 -10 -71.2 -4V2H-4.9L-9.5 -13.3Z" fill="#a8c9ea" stroke-linejoin="round"/><path d="M25 -32.8C40 -28 50 -24 58.2 -18.7C66 -13.5 70.7 -10 70.7 -4V2H4.9L8.7 -15.4Z" fill="#fff" stroke-linejoin="round"/><path d="M-9.5 -13.3L-0.4 -31.2L8.7 -15.4L4.9 2H-5.4Z" fill="#fff" stroke="none"/><path d="M-0.5 -29L-4.3 -17.4L-3.8 2H3.8L3.3 -17.4Z" fill="#a8c9ea" stroke="none"/><path d="M-9.5 -13.3L-5.4 2M8.7 -15.4L4.9 2" fill="none"/><path d="M-15.8 -60C-15.5 -50 -15.2 -44 -16.2 -37L-0.4 -31.2L15.4 -37.5C14 -44 14.1 -50 14.1 -60Z" fill="#fff" stroke="none"/><path d="M0 -60V-31.2L15.4 -37.5C14 -44 14.1 -50 14.1 -60Z" fill="#fea68d" stroke="none"/><path d="M-15.8 -58C-15.5 -50 -15.2 -44 -16.2 -37.5M14.1 -58C14.1 -50 14 -44 15.4 -38" fill="none"/><path d="M-22.6 -39.3L-25.5 -32.8L-9.5 -13.3L-0.4 -31.2Z" fill="#fff" stroke-linejoin="round"/><path d="M21.7 -39.3L25 -32.8L8.7 -15.4L-0.4 -31.2Z" fill="#fea68d" stroke-linejoin="round"/><path d="M-29.9 -92C-30 -80 -28 -72 -25 -66C-20 -57 -10 -51.8 0 -51.8C10 -51.8 19.5 -57 24.5 -66C28 -72 30 -80 29.9 -92C30 -118 22 -130 0 -130C-22 -130 -30 -118 -29.9 -92Z" fill="#fff" stroke="none"/><clipPath id="pc15696"><rect x="0" y="-135" width="40" height="95"/></clipPath><path d="M-29.9 -92C-30 -80 -28 -72 -25 -66C-20 -57 -10 -51.8 0 -51.8C10 -51.8 19.5 -57 24.5 -66C28 -72 30 -80 29.9 -92C30 -118 22 -130 0 -130C-22 -130 -30 -118 -29.9 -92Z" fill="#fea68d" stroke="none" clip-path="url(#pc15696)"/><path d="M-29.9 -92C-30 -80 -28 -72 -25 -66C-20 -57 -10 -51.8 0 -51.8C10 -51.8 19.5 -57 24.5 -66C28 -72 30 -80 29.9 -92C30 -118 22 -130 0 -130C-22 -130 -30 -118 -29.9 -92Z" fill="none"/><path d="M0 -140.6C-10 -140.6 -19 -139 -24.5 -136.1C-31 -132 -34.2 -124 -33.9 -114C-33.6 -104 -32 -95 -29.9 -86.5C-29.5 -95 -28.5 -101 -26.6 -105.7C-25 -110 -23 -113 -20 -113.5C-16 -112.5 -12 -112 -8 -112C2 -112 13 -116 22.3 -120.3C22.5 -112 23.5 -104 25.5 -97C26.5 -93.5 28 -90.5 29.5 -87.5C31.5 -95 33.2 -104 33.4 -114C33.6 -124 31 -132 24 -136C18 -139 10 -140.6 0 -140.6Z" fill="#031b34" stroke="none"/></g><clipPath id="lc1317"><rect x="1312.2" y="1643.1" width="92.59999999999991" height="131.4000000000001"/></clipPath><path d="M1317.2 1648.1H1491.9V1755.0A14.5 14.5 0 0 1 1477.4 1769.5H1331.7A14.5 14.5 0 0 1 1317.2 1755.0Z" fill="#fff" stroke="none"/><path d="M1317.2 1648.1H1491.9V1755.0A14.5 14.5 0 0 1 1477.4 1769.5H1331.7A14.5 14.5 0 0 1 1317.2 1755.0Z" fill="#fea68d" stroke="none" clip-path="url(#lc1317)"/><path d="M1317.2 1648.1H1491.9V1755.0A14.5 14.5 0 0 1 1477.4 1769.5H1331.7A14.5 14.5 0 0 1 1317.2 1755.0Z" fill="none" stroke-width="2.05"/><path d="M1317.2 1750.8H1491.9" stroke-width="2.05"/><path d="M1391.8 1659.6H1417.5" stroke-width="6.4" stroke-linecap="round"/><g transform="translate(1304.2 1823.5) scale(0.81)"><path d="M-32.4 27.4L-36.4 39.6A1.4 1.4 0 0 0 -34.4 41.2L-24.8 33.9Z" fill="#fff" stroke-width="2.35" stroke-linejoin="round"/><path d="M32.4 27.4L36.4 39.6A1.4 1.4 0 0 1 34.4 41.2L24.8 33.9Z" fill="#fff" stroke-width="2.35" stroke-linejoin="round"/><circle cx="-31.1" cy="-29.1" r="14.2" fill="#fff" stroke-width="2.35"/><circle cx="31.1" cy="-29.1" r="14.2" fill="#fff" stroke-width="2.35"/><path d="M-9.3 -39.5V-43.2A4.5 4.5 0 0 1 -4.8 -47.7H4.8A4.5 4.5 0 0 1 9.3 -43.2V-39.5Z" fill="#fff" stroke-width="2.35"/><circle cx="0" cy="0" r="40.3" fill="#fff" stroke-width="2.35"/><path d="M0 -39.2A39.2 39.2 0 0 0 0 39.2Z" fill="#fea68d" stroke="none"/><circle cx="0" cy="0" r="34.4" fill="none" stroke-width="2.53"/><circle cx="0" cy="0" r="4.3" fill="#031b34" stroke="none"/><path d="M0 0V-20.5M-3.8 -14.6L0 -21L3.8 -14.6M0 0H24.5M18.8 -3.8L25.2 0L18.8 3.8" stroke-width="2.59" fill="none"/><circle cx="0" cy="-29.3" r="1.6" fill="#031b34" stroke="none"/><circle cx="29" cy="0" r="1.6" fill="#031b34" stroke="none"/><circle cx="0" cy="29.4" r="1.6" fill="#031b34" stroke="none"/><circle cx="-29.1" cy="0" r="1.6" fill="#031b34" stroke="none"/></g><clipPath id="rkL"><rect x="1300" y="1810" width="75.70000000000005" height="120"/></clipPath><path d="M1343 1858C1330 1864 1321 1876 1318.5 1890C1317 1900 1319.5 1910 1323.7 1919.1H1347.5C1344 1908 1340 1895 1339.9 1880C1339.8 1872 1341 1865 1343 1858Z" fill="#a8c9ea" stroke-width="2.0" stroke-linejoin="round"/><path d="M1408.4 1858C1421.4 1864 1430.4 1876 1432.9 1890C1434.4 1900 1431.9 1910 1427.7 1919.1H1403.9C1407.4 1908 1411.4 1895 1411.5 1880C1411.6 1872 1410.4 1865 1408.4 1858Z" fill="#fff" stroke-width="2.0" stroke-linejoin="round"/><path d="M1375.7 1818.4C1362 1825 1352 1838 1346.5 1850C1341.5 1861 1339.8 1872 1339.9 1880C1340 1890 1342.5 1899 1345.9 1907.7H1405.5C1408.9 1899 1411.4 1890 1411.5 1880C1411.6 1872 1409.9 1861 1404.9 1850C1399.4 1838 1389.4 1825 1375.7 1818.4Z" fill="#fff" stroke="none"/><path d="M1375.7 1818.4C1362 1825 1352 1838 1346.5 1850C1341.5 1861 1339.8 1872 1339.9 1880C1340 1890 1342.5 1899 1345.9 1907.7H1405.5C1408.9 1899 1411.4 1890 1411.5 1880C1411.6 1872 1409.9 1861 1404.9 1850C1399.4 1838 1389.4 1825 1375.7 1818.4Z" fill="#a8c9ea" stroke="none" clip-path="url(#rkL)"/><path d="M1375.7 1818.4C1362 1825 1352 1838 1346.5 1850C1341.5 1861 1339.8 1872 1339.9 1880C1340 1890 1342.5 1899 1345.9 1907.7H1405.5C1408.9 1899 1411.4 1890 1411.5 1880C1411.6 1872 1409.9 1861 1404.9 1850C1399.4 1838 1389.4 1825 1375.7 1818.4Z" fill="none" stroke-width="2.0" stroke-linejoin="round"/><path d="M1375.7 1876.6C1370 1881 1366.5 1890 1365.3 1900C1364.8 1907 1365.5 1913 1366.6 1919.4H1384.8C1385.9 1913 1386.6 1907 1386.1 1900C1384.9 1890 1381.4 1881 1375.7 1876.6Z" fill="#fff" stroke="none"/><path d="M1375.7 1876.6C1370 1881 1366.5 1890 1365.3 1900C1364.8 1907 1365.5 1913 1366.6 1919.4H1384.8C1385.9 1913 1386.6 1907 1386.1 1900C1384.9 1890 1381.4 1881 1375.7 1876.6Z" fill="#a8c9ea" stroke="none" clip-path="url(#rkL)"/><path d="M1375.7 1876.6C1370 1881 1366.5 1890 1365.3 1900C1364.8 1907 1365.5 1913 1366.6 1919.4H1384.8C1385.9 1913 1386.6 1907 1386.1 1900C1384.9 1890 1381.4 1881 1375.7 1876.6Z" fill="none" stroke-width="2.0" stroke-linejoin="round"/><circle cx="1375.9" cy="1848.2" r="11.3" fill="#fff" stroke="none"/><path d="M1375.7 1836.9A11.3 11.3 0 0 1 1375.7 1859.5Z" fill="#fea68d" stroke="none"/><circle cx="1375.9" cy="1848.2" r="11.3" fill="none" stroke-width="2.0"/></g>
</svg>
</body></html>
